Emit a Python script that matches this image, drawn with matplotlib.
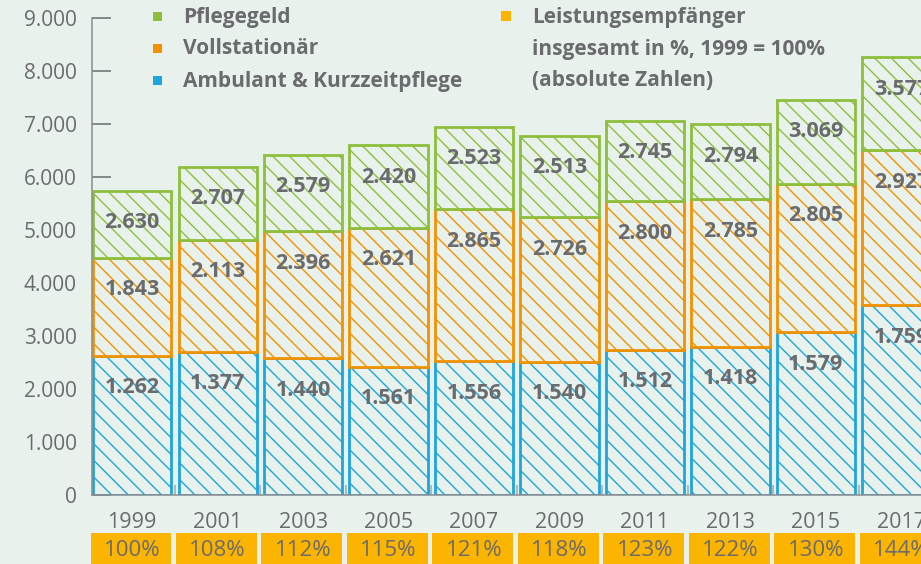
import numpy as np
import matplotlib.pyplot as plt
from matplotlib.patches import Rectangle
import matplotlib.transforms as mtransforms

# Daten (Werte wie im Bild beschriftet)
jahre = ['1999', '2001', '2003', '2005', '2007', '2009', '2011', '2013', '2015', '2017']
pflegegeld = [2630, 2707, 2579, 2420, 2523, 2513, 2745, 2794, 3069, 3577]
vollstationaer = [1843, 2113, 2396, 2621, 2865, 2726, 2800, 2785, 2805, 2927]
ambulant = [1262, 1377, 1440, 1561, 1556, 1540, 1512, 1418, 1579, 1759]
prozent = [100, 108, 112, 115, 121, 118, 123, 122, 130, 144]

# Farben
bg = '#e9f1ec'
grau = '#6a6b6e'
gruen = '#8cbf3c'
orange = '#f39200'
blau = '#1ba6de'
gelb = '#fbb400'

plt.rcParams['font.family'] = ['Open Sans', 'DejaVu Sans']
plt.rcParams['hatch.linewidth'] = 1.0


def fmt(v):
    return f'{v:,}'.replace(',', '.')


fig = plt.figure(figsize=(9.21, 5.64), dpi=100, facecolor=bg)
ax = fig.add_axes([92 / 921, 69 / 564, 829 / 921, 477 / 564])
ax.set_facecolor(bg)

x = np.arange(len(jahre))
b = 0.915

# im Original: untere (blaue) Säule hat die Höhe des Pflegegeld-Werts, obere (grüne) die des Ambulant-Werts
unten = np.array(pflegegeld)
mitte = np.array(vollstationaer)
oben = np.array(ambulant)

segmente = [
    (np.zeros(len(x)), unten, blau, ambulant),
    (unten, mitte, orange, vollstationaer),
    (unten + mitte, oben, gruen, pflegegeld),
]
for boden, hoehe, farbe, labels in segmente:
    ax.bar(x, hoehe, bottom=boden, width=b, color=bg, edgecolor=farbe,
           linewidth=2.0, hatch='\\\\', zorder=2)
    for xi, top, lab in zip(x, boden + hoehe, labels):
        ax.annotate(fmt(lab), (xi, top), xytext=(0, -23), textcoords='offset points',
                    ha='center', va='center', fontsize=15.5, fontweight='bold',
                    color=grau, zorder=4)

ax.set_xlim(-0.47, 9.23)
ax.set_ylim(0, 9000)

ax.set_yticks(np.arange(0, 9001, 1000))
ax.set_yticklabels([fmt(v) for v in range(0, 9001, 1000)])
ax.tick_params(axis='y', direction='in', length=14, width=1.1, color=grau,
               labelsize=15, labelcolor=grau, pad=11)

ax.set_xticks(x)
ax.set_xticklabels(jahre)
ax.tick_params(axis='x', which='major', length=0, labelsize=15.5, labelcolor=grau, pad=12)
ax.set_xticks(x[:-1] + 0.5, minor=True)
ax.tick_params(axis='x', which='minor', direction='in', length=7, width=1.5, color='#b5b8b6')

for s in ['top', 'right']:
    ax.spines[s].set_visible(False)
for s in ['left', 'bottom']:
    ax.spines[s].set_color('#8a8c8e')
    ax.spines[s].set_linewidth(1.1)

# Prozent-Kästchen unter den Jahren
trans = mtransforms.blended_transform_factory(ax.transData, ax.transAxes)
for xi, p in zip(x, prozent):
    ax.add_patch(Rectangle((xi - b / 2 - 0.03, -0.16), b + 0.03, 0.08, transform=trans,
                           facecolor=gelb, edgecolor='none', clip_on=False))
    ax.text(xi, -0.117, f'{p}%', transform=trans, ha='center', va='center',
            fontsize=16, color=grau)

# Legende
leg = [(gruen, 'Pflegegeld', 17), (orange, 'Vollstationär', 49),
       (blau, 'Ambulant & Kurzzeitpflege', 81)]
for farbe, txt, yp in leg:
    fig.patches.append(Rectangle((153 / 921, 1 - (yp + 4) / 564), 9 / 921, 9 / 564,
                                 transform=fig.transFigure, facecolor=farbe, edgecolor='none'))
    fig.text(183 / 921, 1 - yp / 564, txt, ha='left', va='center', fontsize=15,
             fontweight='bold', color=grau)

fig.patches.append(Rectangle((501 / 921, 1 - 21 / 564), 10 / 921, 10 / 564,
                             transform=fig.transFigure, facecolor=gelb, edgecolor='none'))
for txt, yp in [('Leistungsempfänger', 17), ('insgesamt in %, 1999 = 100%', 49),
                ('(absolute Zahlen)', 81)]:
    fig.text(532 / 921, 1 - yp / 564, txt, ha='left', va='center', fontsize=15,
             fontweight='bold', color=grau)

fig.savefig('out.png', dpi=100, facecolor=bg)
